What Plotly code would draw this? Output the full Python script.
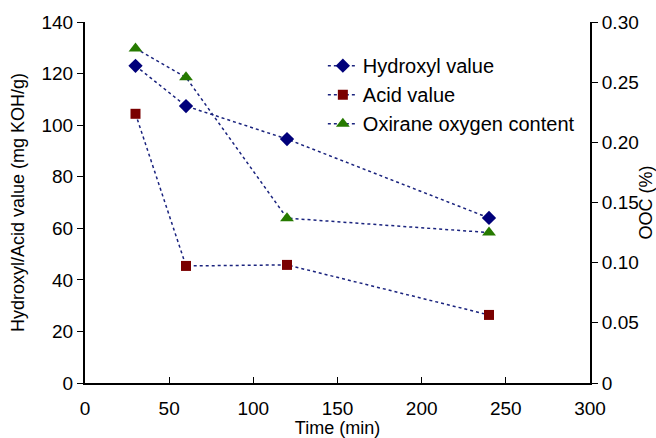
import plotly.graph_objects as go

time = [30, 60, 120, 240]
hydroxyl = [123, 107.4, 94.6, 64]
acid = [104.4, 45.4, 45.8, 26.4]
ooc = [0.278, 0.254, 0.137, 0.125]

x_ticks = [0, 50, 100, 150, 200, 250, 300]
y_ticks = [0, 20, 40, 60, 80, 100, 120, 140]
y2_ticks = [0, 0.05, 0.10, 0.15, 0.20, 0.25, 0.30]
y2_labels = ["0", "0.05", "0.10", "0.15", "0.20", "0.25", "0.30"]

line_style = dict(color="#1a237e", width=1.5, dash="dot")
fig = go.Figure()
fig.add_trace(go.Scatter(x=time, y=hydroxyl, name="Hydroxyl value", mode="lines+markers",
                         line=line_style,
                         marker=dict(symbol="diamond", size=11, color="#00007a")))
fig.add_trace(go.Scatter(x=time, y=acid, name="Acid value", mode="lines+markers",
                         line=line_style,
                         marker=dict(symbol="square", size=10, color="#7a0000")))
fig.add_trace(go.Scatter(x=time, y=ooc, name="Oxirane oxygen content", mode="lines+markers",
                         line=line_style, yaxis="y2",
                         marker=dict(symbol="triangle-up", size=12, color="#267a00")))

fam = "Liberation Sans, Arial, sans-serif"
tickfont = dict(family=fam, size=19, color="black")
titlefont = dict(family=fam, size=18, color="black")
fig.update_layout(
    width=656, height=438,
    margin=dict(l=85, r=66, t=22, b=55),
    plot_bgcolor="white", paper_bgcolor="white",
    font=dict(family=fam, size=18, color="black"),
    showlegend=True,
    legend=dict(x=0.471, y=0.933, xanchor="left", yanchor="top",
                bgcolor="rgba(0,0,0,0)", font=dict(family=fam, size=20, color="black"),
                tracegroupgap=0),
    xaxis=dict(range=[0, 300], tickvals=x_ticks, showline=True, linecolor="black",
               linewidth=2, ticks="inside", ticklen=6, tickcolor="black", showgrid=False,
               zeroline=False, tickfont=tickfont, ticklabelstandoff=7, automargin=False,
               title=dict(text="Time (min)", standoff=0, font=titlefont)),
    yaxis=dict(range=[0, 140], tickvals=y_ticks, showline=True, linecolor="black",
               linewidth=2, ticks="outside", ticklen=6, tickcolor="black", showgrid=False,
               zeroline=False, tickfont=tickfont, automargin=False,
               title=dict(text="Hydroxyl/Acid value (mg KOH/g)", standoff=12, font=titlefont)),
    yaxis2=dict(range=[0, 0.30], tickvals=y2_ticks, ticktext=y2_labels, overlaying="y",
                side="right", showline=True, linecolor="black", linewidth=2,
                ticks="outside", ticklen=6, tickcolor="black", showgrid=False,
                zeroline=False, tickfont=tickfont, automargin=False,
                title=dict(text="OOC (%)", standoff=0, font=titlefont)),
)
fig.write_html("out.html")
